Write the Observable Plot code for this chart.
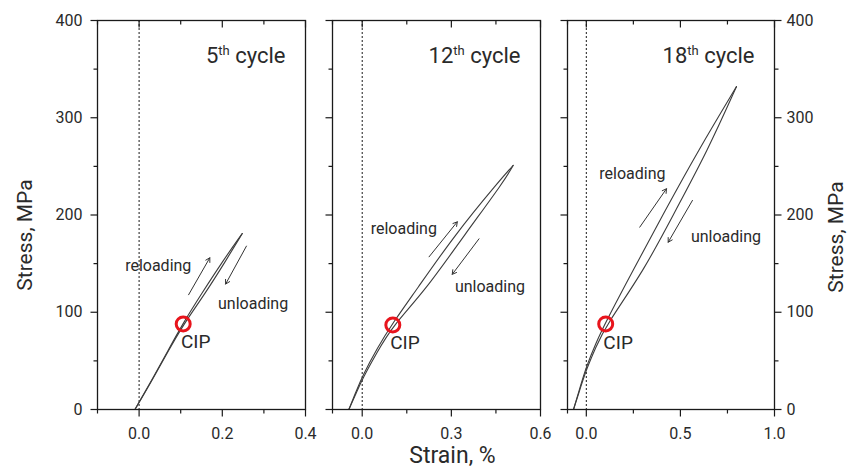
<!DOCTYPE html>
<html><head><meta charset="utf-8">
<script src="https://cdn.jsdelivr.net/npm/d3@7"></script>
<script src="https://cdn.jsdelivr.net/npm/@observablehq/plot@0.6"></script>
<style>
body{margin:0;background:#fff}
#chart{position:relative;width:857px;height:475px;overflow:hidden;background:#fff}
#chart svg{position:absolute;top:0}
</style>
</head><body><div id="chart"></div>
<script>
// ---- data ----
const cycles = ["5th cycle", "12th cycle", "18th cycle"];
const strainDomains = [[-0.1, 0.4], [-0.1, 0.6], [-0.1, 1.0]];
const strainMajorTicks = [[0, 0.2, 0.4], [0, 0.3, 0.6], [0, 0.5, 1.0]];
const strainMinorTicks = [[-0.1, 0.1, 0.3], [-0.1, 0.15, 0.45], [-0.1, 0.25, 0.75]];
const stressDomain = [0, 400];
const stressMajorTicks = [0, 100, 200, 300, 400];
const stressMinorTicks = [50, 150, 250, 350];

const reloadStrain = [
  [-0.01, 0.03, 0.07, 0.106, 0.15, 0.20, 0.248],
  [-0.045, -0.02, 0, 0.05, 0.103, 0.180, 0.310, 0.461, 0.508],
  [-0.068, -0.03, 0, 0.05, 0.103, 0.248, 0.420, 0.594, 0.798]
];
const reloadStress = [
  [0, 30, 61, 89, 119, 152, 181],
  [0, 19, 34, 63, 89, 122, 179, 235, 251],
  [0, 25, 44, 68, 90, 143, 205, 266, 332]
];
const unloadStrain = [
  [0.248, 0.21, 0.16, 0.106, 0.07, 0.03, -0.01],
  [0.508, 0.478, 0.343, 0.211, 0.103, 0.05, 0, -0.02, -0.045],
  [0.798, 0.644, 0.475, 0.307, 0.103, 0.05, 0, -0.03, -0.068]
];
const unloadStress = [
  [181, 154, 120, 87, 60, 29, 0],
  [251, 235, 179, 122, 86, 59, 31, 17, 0],
  [332, 266, 205, 143, 86, 64, 41, 23, 0]
];
const cipStrain = [0.106, 0.103, 0.103];
const cipStress = [88, 87, 88];

// annotation arrows [strain1, stress1, strain2, stress2]
const reloadArrow = [[0.119, 118, 0.170, 156], [0.225, 157, 0.320, 193], [0.284, 187.5, 0.426, 227]];
const unloadArrow = [[0.258, 168, 0.208, 129], [0.393, 175.5, 0.303, 139], [0.564, 215, 0.435, 172]];
// annotation label anchors [strain, stress]
const reloadLabel = [[0.046, 148], [0.140, 186], [0.245, 242]];
const unloadLabel = [[0.274, 109], [0.430, 126.5], [0.742, 177]];
const cipLabel = [[0.136, 69], [0.144, 68], [0.169, 68]];

// ---- layout ----
const layout = [
  {left: 0, width: 320, ml: 97, mr: 15},
  {left: 320, width: 235, ml: 12, mr: 15},
  {left: 555, width: 302, ml: 12, mr: 83}
];
const ink = "#1a1a1a";
const textInk = "#2a2a2a";
const curveColor = "#3c3c3c";
const fmt = d3.format(".1f");
const container = document.getElementById("chart");
// short tick drawn as a custom dot symbol (dx, dy in pixels from the anchor)
const tickSym = (dx, dy) => ({draw(ctx) { ctx.moveTo(0, 0); ctx.lineTo(dx, dy); }});

cycles.forEach((title, i) => {
  const L = layout[i];
  const [xmin, xmax] = strainDomains[i];
  const [ymin, ymax] = stressDomain;
  const branches = [];
  reloadStrain[i].forEach((s, j) => branches.push({strain: s, stress: reloadStress[i][j], branch: "reload"}));
  unloadStrain[i].forEach((s, j) => branches.push({strain: s, stress: unloadStress[i][j], branch: "unload"}));
  const arrows = [reloadArrow[i], unloadArrow[i]];
  const labels = [
    {s: reloadLabel[i][0], y: reloadLabel[i][1], t: "reloading", a: "middle", f: 16},
    {s: unloadLabel[i][0], y: unloadLabel[i][1], t: "unloading", a: "middle", f: 16},
    {s: cipLabel[i][0], y: cipLabel[i][1], t: "CIP", a: "start", f: 19}
  ];
  const tk = {stroke: ink, strokeWidth: 1.2, fill: "none"};
  const marks = [
    Plot.ruleX([0], {stroke: ink, strokeWidth: 1, strokeDasharray: "2,2"}),
    Plot.line(branches, {x: "strain", y: "stress", z: "branch", stroke: curveColor, strokeWidth: 1.1, curve: "basis"}),
    Plot.arrow(arrows, {x1: d => d[0], y1: d => d[1], x2: d => d[2], y2: d => d[3], stroke: "#333", strokeWidth: 1, headLength: 7}),
    Plot.text(labels, {x: "s", y: "y", text: "t", textAnchor: d => d.a, fontSize: d => d.f, fill: textInk}),
    Plot.dot([{s: cipStrain[i], y: cipStress[i]}], {x: "s", y: "y", r: 7, stroke: "#e8141c", strokeWidth: 3, fill: "none"}),
    Plot.text([title], {frameAnchor: "top-right", textAnchor: "end", dx: -20, dy: 27, lineAnchor: "top", fontSize: 22, fill: textInk}),
    Plot.frame({stroke: ink, strokeWidth: 1.3}),
    // bottom ticks (outward) and top ticks (inward)
    Plot.dot(strainMajorTicks[i], {x: d => d, y: () => ymin, symbol: tickSym(0, 7), ...tk}),
    Plot.dot(strainMinorTicks[i], {x: d => d, y: () => ymin, symbol: tickSym(0, 4), ...tk}),
    Plot.dot(strainMajorTicks[i], {x: d => d, y: () => ymax, symbol: tickSym(0, 7), ...tk}),
    Plot.dot(strainMinorTicks[i], {x: d => d, y: () => ymax, symbol: tickSym(0, 4), ...tk}),
    // left ticks (outward)
    Plot.dot(stressMajorTicks, {x: () => xmin, y: d => d, symbol: tickSym(-7, 0), ...tk}),
    Plot.dot(stressMinorTicks, {x: () => xmin, y: d => d, symbol: tickSym(-4, 0), ...tk}),
    // tick labels
    Plot.axisX({anchor: "bottom", ticks: strainMajorTicks[i], tickSize: 0, tickPadding: 18, tickFormat: fmt, label: null, fill: textInk})
  ];
  if (i === 0) {
    marks.push(Plot.axisY({anchor: "left", ticks: stressMajorTicks, tickSize: 0, tickPadding: 15, label: null, fill: textInk}));
    marks.push(Plot.text(["Stress, MPa"], {frameAnchor: "left", textAnchor: "middle", dx: -72, dy: 20, rotate: -90, fontSize: 21, fill: textInk}));
  }
  if (i === 1) {
    marks.push(Plot.text(["Strain, %"], {frameAnchor: "bottom", textAnchor: "middle", dx: 16, dy: 53, fontSize: 23, fill: textInk}));
  }
  if (i === 2) {
    marks.push(Plot.dot(stressMajorTicks, {x: () => xmax, y: d => d, symbol: tickSym(7, 0), ...tk}));
    marks.push(Plot.dot(stressMinorTicks, {x: () => xmax, y: d => d, symbol: tickSym(4, 0), ...tk}));
    marks.push(Plot.axisY({anchor: "right", ticks: stressMajorTicks, tickSize: 0, tickPadding: 12, label: null, fill: textInk}));
    marks.push(Plot.text(["Stress, MPa"], {frameAnchor: "right", textAnchor: "middle", dx: 62, dy: 22, rotate: -90, fontSize: 21, fill: textInk}));
  }
  const svg = Plot.plot({
    width: L.width, height: 475,
    marginTop: 20, marginBottom: 66, marginLeft: L.ml, marginRight: L.mr,
    x: {domain: strainDomains[i], axis: null},
    y: {domain: stressDomain, axis: null},
    style: {fontFamily: "Roboto, 'DejaVu Sans', sans-serif", fontSize: "16px", color: textInk, background: "transparent", overflow: "visible"},
    marks
  });
  svg.style.left = L.left + "px";
  container.appendChild(svg);
  // superscript ordinal in the panel title
  d3.select(svg).selectAll("text").each(function () {
    const m = this.textContent.match(/^(\d+)(th)( cycle)$/);
    if (!m) return;
    const el = d3.select(this);
    el.text(null);
    el.append("tspan").text(m[1]);
    el.append("tspan").attr("dy", "-8").attr("font-size", "13").text(m[2]);
    el.append("tspan").attr("dy", "8").text(m[3]);
  });
});
</script>
</body></html>
